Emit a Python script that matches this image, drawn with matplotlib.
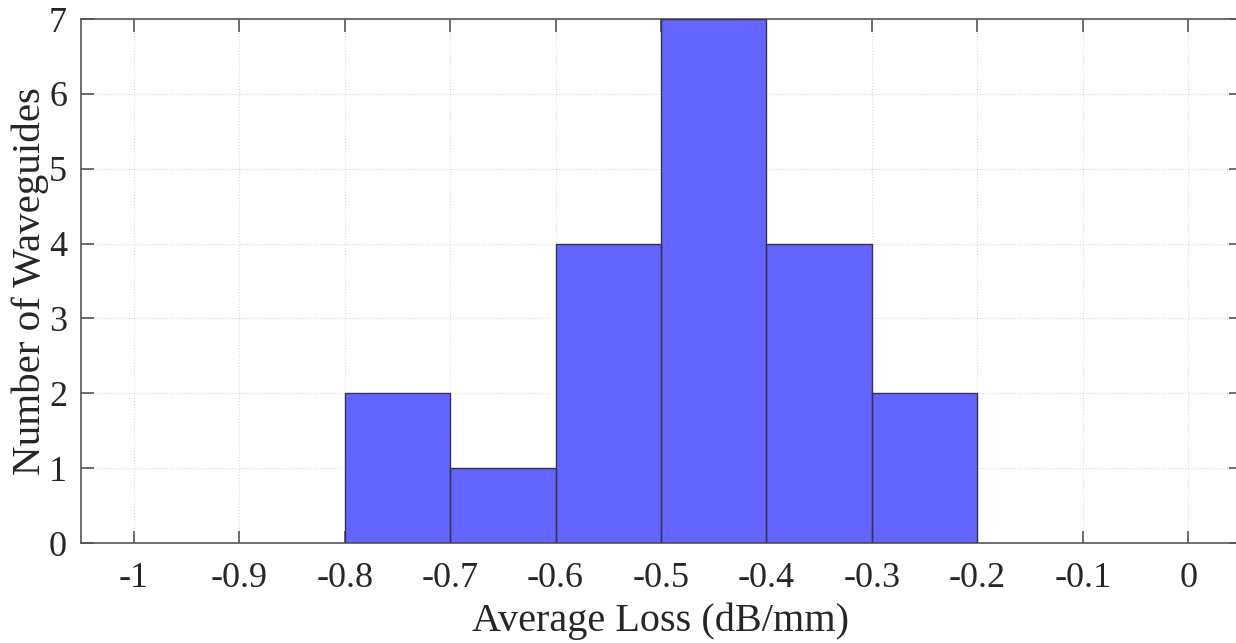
import matplotlib
matplotlib.use("Agg")
import matplotlib.pyplot as plt
import numpy as np

bin_edges = [-0.8, -0.7, -0.6, -0.5, -0.4, -0.3, -0.2]
counts = [2, 1, 4, 7, 4, 2]
xticks = [-1, -0.9, -0.8, -0.7, -0.6, -0.5, -0.4, -0.3, -0.2, -0.1, 0]
xtick_labels = ["-1", "-0.9", "-0.8", "-0.7", "-0.6", "-0.5", "-0.4", "-0.3", "-0.2", "-0.1", "0"]
yticks = [0, 1, 2, 3, 4, 5, 6, 7]

plt.rcParams['font.family'] = ['Liberation Serif', 'DejaVu Serif']

fig = plt.figure(figsize=(12.36, 6.43), dpi=100)
ax = fig.add_axes([81/1236, 1-543/643, 1160/1236, (543-19)/643])

ax.stairs(counts, bin_edges, fill=True, facecolor='#6464FF', edgecolor='none', zorder=2)
ax.bar(bin_edges[:-1], counts, width=np.diff(bin_edges), align='edge',
       facecolor='none', edgecolor='#333355', linewidth=1.0, zorder=3)

ax.set_xlim(-1.05, 0.05)
ax.set_ylim(0, 7)
ax.set_xticks(xticks)
ax.set_xticklabels(xtick_labels)
ax.set_yticks(yticks)
ax.grid(True, color='#d9d9d9', linestyle=':', linewidth=0.8, zorder=0)
ax.set_axisbelow(True)
ax.tick_params(direction='in', top=True, right=True, length=9, width=1.2,
               color='#555555', labelsize=26, labelcolor='#262626')
ax.tick_params(axis='x', pad=14)
ax.tick_params(axis='y', pad=10)
for s in ax.spines.values():
    s.set_color('#555555')
    s.set_linewidth(1.2)
ax.set_xlabel('Average Loss (dB/mm)', fontsize=29, color='#262626', labelpad=5)
ax.set_ylabel('Number of Waveguides', fontsize=29.5, color='#262626', labelpad=0)

fig.savefig('out.png', dpi=100)
